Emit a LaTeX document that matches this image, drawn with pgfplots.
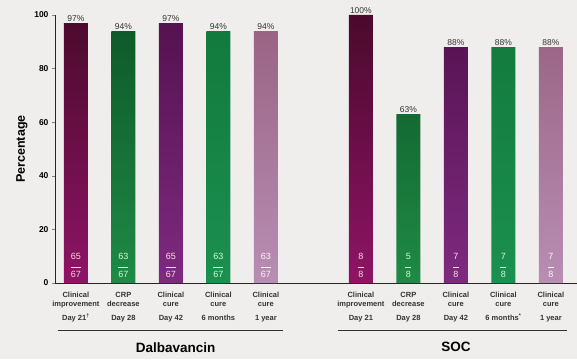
\documentclass[border=0pt]{standalone}
\usepackage{pgfplots}
\pgfplotsset{compat=1.18}
\usepackage{fontspec}
\setmainfont{Liberation Sans}
\definecolor{bg}{HTML}{EFEEEC}
\definecolor{ciT}{HTML}{4A0A2C}
\definecolor{ciB}{HTML}{8E1466}
\definecolor{crT}{HTML}{0F5A2A}
\definecolor{crB}{HTML}{1F8A46}
\definecolor{ccT}{HTML}{561250}
\definecolor{ccB}{HTML}{7E2A80}
\definecolor{smT}{HTML}{127A3C}
\definecolor{smB}{HTML}{1B9050}
\definecolor{oyT}{HTML}{9A6484}
\definecolor{oyB}{HTML}{B88EB4}
\newcommand{\frc}[3]{\node[text=#3, font=\fontsize{9}{9}\selectfont, align=center, inner sep=0pt] at (axis cs:#1,6.6) {#2};}
\begin{document}
\begin{tikzpicture}
\path[use as bounding box, fill=bg] (-55pt,-76pt) rectangle (522pt,283pt);
\begin{axis}[
  scale only axis, width=522pt, height=268pt,
  at={(0,0)}, anchor=south west,
  xmin=-0.44, xmax=10.55, ymin=0, ymax=100,
  axis x line=bottom, axis y line=left,
  axis line style={-, line width=0.9pt, black!85},
  ytick={0,20,40,60,80,100},
  yticklabel style={font=\bfseries\fontsize{8.5}{8.5}\selectfont},
  /pgf/number format/assume math mode=true,
  tick align=outside, major tick length=3pt,
  xtick={0,1,2,3,4,6,7,8,9,10},
  x tick style={draw=none},
  xticklabels={
    {Clinical\\improvement\\[5pt]Day 21\textsuperscript{†}},
    {CRP\\decrease\\[5pt]Day 28},
    {Clinical\\cure\\[5pt]Day 42},
    {Clinical\\cure\\[5pt]6 months},
    {Clinical\\cure\\[5pt]1 year},
    {Clinical\\improvement\\[5pt]Day 21},
    {CRP\\decrease\\[5pt]Day 28},
    {Clinical\\cure\\[5pt]Day 42},
    {Clinical\\cure\\[5pt]6 months\textsuperscript{*}},
    {Clinical\\cure\\[5pt]1 year}},
  xticklabel style={align=center, font=\bfseries\fontsize{7.5}{9}\selectfont, text=black!80, yshift=-3pt},
  ylabel={\bfseries Percentage},
  ylabel style={font=\fontsize{12.5}{12.5}\selectfont},
  ybar, bar width=24pt, bar shift=0pt,
  clip=false,
  nodes near coords={\pgfmathprintnumber{\pgfplotspointmeta}\%},
  nodes near coords style={font=\fontsize{8.5}{8.5}\selectfont, text=black!80, inner sep=1.5pt},
]
\addplot[draw=none, top color=ciT, bottom color=ciB] coordinates {(0,97) (6,100)};
\addplot[draw=none, top color=crT, bottom color=crB] coordinates {(1,94) (7,63)};
\addplot[draw=none, top color=ccT, bottom color=ccB] coordinates {(2,97) (8,88)};
\addplot[draw=none, top color=smT, bottom color=smB] coordinates {(3,94) (9,88)};
\addplot[draw=none, top color=oyT, bottom color=oyB] coordinates {(4,94) (10,88)};
\frc{0}{65\\[-1pt]\rule{10pt}{0.8pt}\\[1pt]67}{pink!60}
\frc{1}{63\\[-1pt]\rule{10pt}{0.8pt}\\[1pt]67}{green!20}
\frc{2}{65\\[-1pt]\rule{10pt}{0.8pt}\\[1pt]67}{pink!50}
\frc{3}{63\\[-1pt]\rule{10pt}{0.8pt}\\[1pt]67}{green!20}
\frc{4}{63\\[-1pt]\rule{10pt}{0.8pt}\\[1pt]67}{white!85!pink}
\frc{6}{8\\[-1pt]\rule{6pt}{0.8pt}\\[1pt]8}{pink!60}
\frc{7}{5\\[-1pt]\rule{6pt}{0.8pt}\\[1pt]8}{green!20}
\frc{8}{7\\[-1pt]\rule{6pt}{0.8pt}\\[1pt]8}{pink!50}
\frc{9}{7\\[-1pt]\rule{6pt}{0.8pt}\\[1pt]8}{green!20}
\frc{10}{7\\[-1pt]\rule{6pt}{0.8pt}\\[1pt]8}{white!85!pink}
\draw[line width=0.8pt, black!80] (axis cs:-0.38,-17.5) -- (axis cs:4.36,-17.5);
\draw[line width=0.8pt, black!80] (axis cs:5.52,-17.5) -- (axis cs:10.34,-17.5);
\node[font=\bfseries\fontsize{13.5}{13.5}\selectfont] at (axis cs:2.1,-24) {Dalbavancin};
\node[font=\bfseries\fontsize{13.5}{13.5}\selectfont] at (axis cs:8,-24) {SOC};
\end{axis}
\end{tikzpicture}
\end{document}
